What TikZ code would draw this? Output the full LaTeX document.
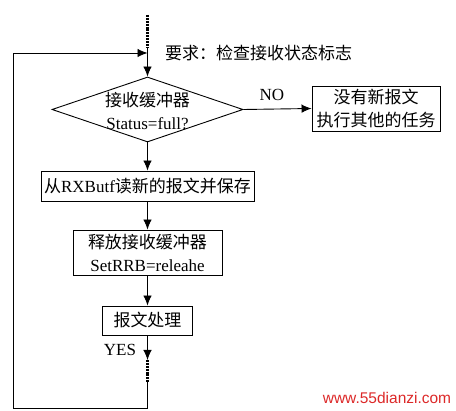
\documentclass[tikz,border=0pt]{standalone}
\usepackage{fontspec}
\setmainfont{Liberation Serif}
\newfontfamily\cjk{Noto Sans CJK SC}
\newfontfamily\wmfont{Liberation Sans}
\usetikzlibrary{shapes.geometric,arrows.meta}
\definecolor{wmred}{RGB}{220,40,40}
\begin{document}
\begin{tikzpicture}[x=1pt,y=-1pt,
  box/.style={draw, line width=0.9pt, inner sep=0pt, align=center, font=\fontsize{17}{23}\selectfont},
  txt/.style={inner sep=0pt, align=center, font=\fontsize{17}{23}\selectfont},
  conn/.style={line width=0.9pt},
  flow/.style={line width=0.9pt, -{Latex[length=10pt,width=8.5pt]}},
  thickdot/.style={line width=2.8pt, dash pattern=on 2pt off 0.9pt}]
\useasboundingbox (0,0) rectangle (456,411);
% nodes
\node[draw, diamond, minimum width=191pt, minimum height=65pt, inner sep=0pt, line width=0.9pt] (dec) at (147.5,109.5) {};
\node[txt] (dectxt) at (147.5,111) {{\cjk 接收缓冲器}\\Status=full?};
\node[box, minimum width=128pt, minimum height=45pt] (other) at (376,108.5) {{\cjk 没有新报文}\\{\cjk 执行其他的任务}};
\node[box, minimum width=213pt, minimum height=30pt] (read) at (147.5,186) {{\cjk 从}RXButf{\cjk 读新的报文并保存}};
\node[box, minimum width=149pt, minimum height=45pt] (rel) at (147.5,252.5) {{\cjk 释放接收缓冲器}\\SetRRB=releahe};
\node[box, minimum width=90pt, minimum height=29pt] (proc) at (147.5,320.5) {{\cjk 报文处理}};
\node[txt, anchor=west] (req) at (165,53) {\cjk 要求：检查接收状态标志};
\node[txt] (no) at (272,95) {NO};
\node[txt] (yes) at (120,350) {YES};
\node[inner sep=0pt, text=wmred, font=\wmfont\fontsize{15.5}{18}\selectfont] (wm) at (387,398) {www.55dianzi.com};
% coordinates
\coordinate (top) at (147.5,15);
\coordinate (dotend) at (147.5,47);
\coordinate (join) at (147.5,53);
\coordinate (ytip) at (147.5,360);
\coordinate (ydot) at (147.5,382);
\coordinate (bcorner) at (147.5,408);
\coordinate (lcornerb) at (13.5,408);
\coordinate (lcornert) at (13.5,53);
% connectors
\draw[thickdot] (top) -- (dotend);
\draw[conn] (dotend) -- (join);
\draw[flow] (join) -- (dec.north);
\draw[flow] (dec.east) -- (other.west);
\draw[flow] (dec.south) -- (read.north);
\draw[flow] (read.south) -- (rel.north);
\draw[flow] (rel.south) -- (proc.north);
\draw[flow] (proc.south) -- (ytip);
\draw[thickdot] (ytip) -- (ydot);
\draw[conn] (ydot) -- (bcorner) -- (lcornerb) -- (lcornert);
\draw[flow] (lcornert) -- (join);
\end{tikzpicture}
\end{document}
